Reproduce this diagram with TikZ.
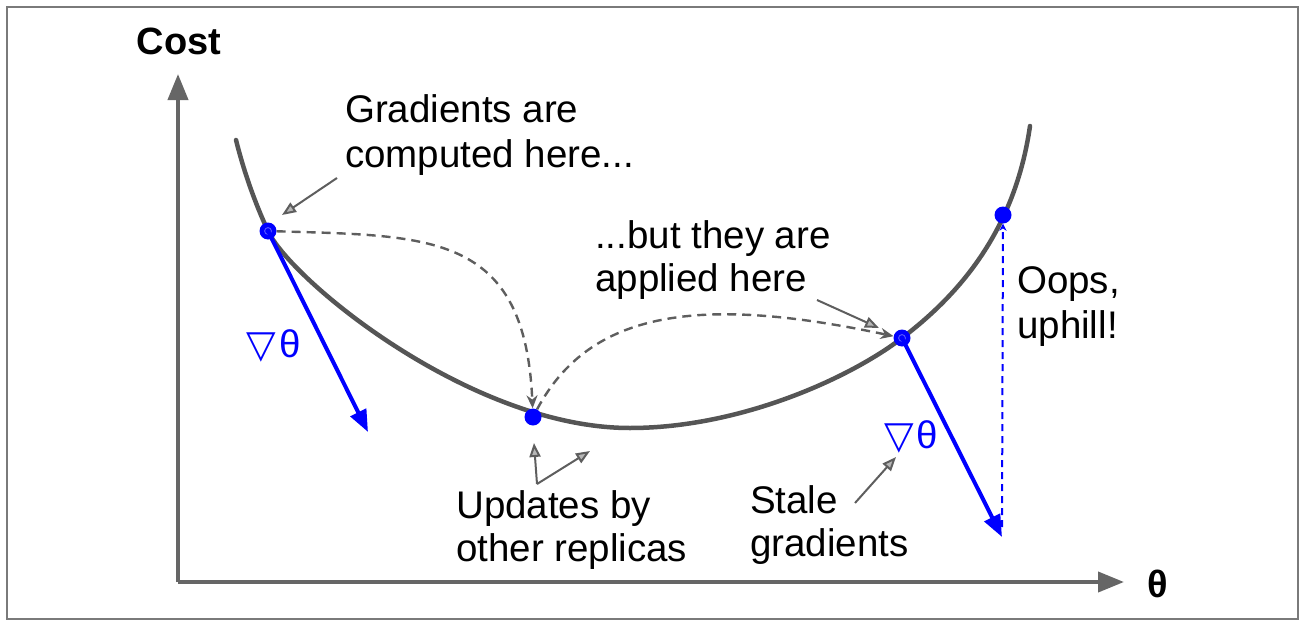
\documentclass[tikz,border=0pt]{standalone}
\usepackage{fontspec}
\setmainfont{Liberation Sans}
\newfontfamily\nablafont{DejaVu Sans}
\usetikzlibrary{arrows.meta}
\definecolor{curvegray}{HTML}{555555}
\definecolor{axisgray}{HTML}{666666}
\definecolor{notegray}{HTML}{5E5E5E}
\definecolor{framegray}{HTML}{7A7A7A}
\definecolor{ringblue}{HTML}{5A5AFF}

\begin{document}
\begin{tikzpicture}[x=1pt,y=-1pt,
  labeltext/.style={font=\fontsize{38.5}{46}\selectfont, inner sep=0pt, anchor=base west},
  boldtext/.style={font=\fontsize{38}{46}\selectfont\bfseries, inner sep=0pt, anchor=base},
  gradtext/.style={font=\fontsize{38.5}{46}\selectfont, text=blue, inner sep=0pt, anchor=base},
  axisline/.style={draw=axisgray, line width=4pt, -{Triangle[length=26pt,width=20pt]}},
  costcurve/.style={draw=curvegray, line width=4.5pt, line cap=round},
  dot/.style={circle, fill=blue, inner sep=0pt, minimum size=17pt},
  gradarrow/.style={draw=blue, line width=4pt, -{Triangle[length=22pt,width=17pt]}},
  notearrow/.style={draw=notegray, line width=2pt, -{Triangle[open,length=14pt,width=11pt,fill=notegray!45]}},
  flowarrow/.style={draw=notegray, line width=2.4pt, dash pattern=on 9pt off 6pt, -{Stealth[open,length=13pt,width=11pt]}},
  uphill/.style={draw=blue, line width=2pt, dash pattern=on 7pt off 5pt, -{Stealth[length=7pt,width=7pt]}}]

% page and frame
\useasboundingbox (0,0) rectangle (1306,626);
\draw[framegray, line width=2pt] (7,7) rectangle (1298,619);

% axes
\coordinate (origin) at (178,582);
\coordinate (ytip) at (178,74);
\coordinate (xtip) at (1124,582);
\draw[axisline] (origin) -- (ytip);
\draw[axisline] (origin) -- (xtip);
\node[boldtext] (costlbl) at (179,55) {Cost};
\node[boldtext] (thetalbl) at (1158,597) {θ};

% cost curve, built from tangent-continuous pieces
\draw[costcurve] (236,140) .. controls (244,172) and (255,203) .. (268,231)
  .. controls (290,279) and (470,428) .. (630,428)
  .. controls (740,428) and (850,378) .. (902,338)
  .. controls (960,294) and (1015,230) .. (1030,126);

% points on the curve
\node[dot] (p1) at (268,231) {};
\node[dot] (p2) at (533,417) {};
\node[dot] (p3) at (902,338) {};
\node[dot] (p4) at (1003,215) {};
\draw[ringblue, line width=0.9pt] (p1) circle (3.4);
\draw[ringblue, line width=0.9pt] (p3) circle (3.4);

% gradient vectors
\coordinate (g1) at (368,432);
\coordinate (g3) at (1002,537);
\draw[gradarrow] (p1.center) -- (g1);
\draw[gradarrow] (p3.center) -- (g3);
\node[gradtext] (grad1) at (274,357) {{\nablafont ▽}\kern3ptθ};
\node[gradtext] (grad3) at (911,448) {{\nablafont ▽}\kern3ptθ};

% flow of the stale gradient
\draw[flowarrow] (p1) .. controls (430,236) and (525,232) .. (p2);
\draw[flowarrow] (p2) .. controls (590,310) and (700,295) .. (p3);

% uphill jump
\coordinate (upbase) at (1002,527);
\draw[uphill] (upbase) -- (p4);

% annotations
\node[labeltext] (computed1) at (345,122) {Gradients are};
\node[labeltext] (computed2) at (345,167) {computed here...};
\node[labeltext] (applied1) at (595,248) {...but they are};
\node[labeltext] (applied2) at (595,291) {applied here};
\node[labeltext] (updates1) at (456,518) {Updates by};
\node[labeltext] (updates2) at (456,561) {other replicas};
\node[labeltext] (stale1) at (750,513) {Stale};
\node[labeltext] (stale2) at (750,556) {gradients};
\node[labeltext] (oops1) at (1017,293) {Oops,};
\node[labeltext] (oops2) at (1017,338) {uphill!};

\coordinate (c1s) at (337,178);
\coordinate (c1e) at (282,215);
\draw[notearrow] (c1s) -- (c1e);
\coordinate (c2s) at (817,300);
\coordinate (c2e) at (879,328);
\draw[notearrow] (c2s) -- (c2e);
\coordinate (c3s) at (537,484);
\coordinate (c3a) at (534,443);
\coordinate (c3b) at (590,451);
\draw[notearrow] (c3s) -- (c3a);
\draw[notearrow] (c3s) -- (c3b);
\coordinate (c4s) at (855,503);
\coordinate (c4e) at (896,457);
\draw[notearrow] (c4s) -- (c4e);
\end{tikzpicture}
\end{document}
